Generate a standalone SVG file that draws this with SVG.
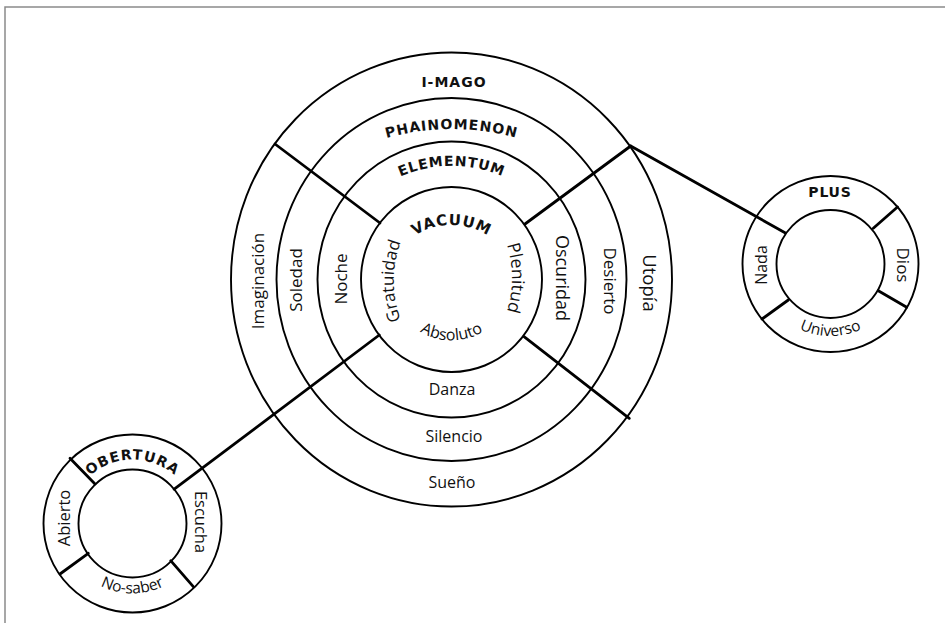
<svg xmlns="http://www.w3.org/2000/svg" xmlns:xlink="http://www.w3.org/1999/xlink" width="945" height="623" viewBox="0 0 945 623">
<style>
.ring{fill:none;stroke:#000;stroke-width:1.9}
.spoke{fill:none;stroke:#000;stroke-width:2.8;stroke-linecap:round}
.hd{font-family:"DejaVu Sans",Verdana,sans-serif;font-weight:bold;font-size:14px;fill:#111}
.lb{font-family:"Open Sans","Noto Sans",sans-serif;font-size:16px;fill:#111}
.vt{font-size:17px}
</style>
<defs>
<path id="pPhai" d="M331.5,161.2 A240,240 0 0 1 571.5,161.2"/>
<path id="pElem" d="M351.9,212.4 A130,130 0 0 1 551.1,212.4"/>
<path id="pVac" d="M392.6,259 A68,68 0 0 1 510.4,259"/>
<path id="pGrat" d="M420.7,353.1 A110,110 0 0 1 420.7,208.9"/>
<path id="pPlen" d="M486.3,207.3 A110,110 0 0 1 486.3,348.7"/>
<path id="pAbs" d="M398.7,310 A61,61 0 0 0 504.3,310"/>
<path id="pUniv" d="M768.1,300 A72,72 0 0 0 892.9,300"/>
<path id="pObert" d="M72.4,501.6 A64,64 0 0 1 192.6,501.6"/>
<path id="pNosab" d="M71.9,558.5 A70,70 0 0 0 193.1,558.5"/>
</defs>
<rect width="945" height="623" fill="#fff"/>
<path d="M5,623 V7 H945" fill="none" stroke="#8a8a8a" stroke-width="1.5"/>

<g id="connectors">
<line class="spoke" x1="275" y1="144" x2="380" y2="223"/>
<line class="spoke" x1="525" y1="224" x2="630.7" y2="146"/>
<line class="spoke" x1="630.7" y1="146" x2="785" y2="232.7"/>
<line class="spoke" x1="379.3" y1="335" x2="174.2" y2="489.2"/>
<line class="spoke" x1="524" y1="336.7" x2="629.3" y2="418.3"/>
</g>

<g id="main">
<ellipse class="ring" cx="451.5" cy="279.5" rx="220.5" ry="227"/>
<ellipse class="ring" cx="451.5" cy="279.5" rx="175" ry="181.5"/>
<ellipse class="ring" cx="451.5" cy="279.5" rx="134" ry="138"/>
<ellipse class="ring" cx="451.5" cy="279.5" rx="90.5" ry="92.5"/>
</g>

<g id="imago">
<text class="hd" x="454" y="87" text-anchor="middle" letter-spacing="1">I-MAGO</text>
<text class="lb vt" transform="translate(263.5,281) rotate(-90)" text-anchor="middle">Imaginación</text>
<text class="lb" style="font-size:18.5px" transform="translate(643,283) rotate(90)" text-anchor="middle">Utopía</text>
<text class="lb" x="452" y="488" text-anchor="middle">Sueño</text>
</g>

<g id="phainomenon">
<text class="hd" letter-spacing="1"><textPath xlink:href="#pPhai" href="#pPhai" startOffset="50%" text-anchor="middle">PHAINOMENON</textPath></text>
<text class="lb vt" transform="translate(302,280) rotate(-90)" text-anchor="middle">Soledad</text>
<text class="lb vt" transform="translate(604,281) rotate(90)" text-anchor="middle">Desierto</text>
<text class="lb" x="454" y="442" text-anchor="middle">Silencio</text>
</g>

<g id="elementum">
<text class="hd" letter-spacing="0.8"><textPath xlink:href="#pElem" href="#pElem" startOffset="50%" text-anchor="middle">ELEMENTUM</textPath></text>
<text class="lb vt" transform="translate(347,279) rotate(-90)" text-anchor="middle">Noche</text>
<text class="lb" style="font-size:18px" transform="translate(555.5,278) rotate(90)" text-anchor="middle">Oscuridad</text>
<text class="lb" x="452" y="395" text-anchor="middle">Danza</text>
</g>

<g id="vacuum">
<text class="hd" style="font-size:15px" letter-spacing="0.8"><textPath xlink:href="#pVac" href="#pVac" startOffset="50%" text-anchor="middle">VACUUM</textPath></text>
<text class="lb vt"><textPath xlink:href="#pGrat" href="#pGrat" startOffset="50%" text-anchor="middle">Gratuidad</textPath></text>
<text class="lb" style="font-size:17.5px"><textPath xlink:href="#pPlen" href="#pPlen" startOffset="50%" text-anchor="middle">Plenitud</textPath></text>
<text class="lb"><textPath xlink:href="#pAbs" href="#pAbs" startOffset="50%" text-anchor="middle">Absoluto</textPath></text>
</g>

<g id="plus">
<circle class="ring" cx="830.5" cy="264" r="88"/>
<circle class="ring" cx="830.5" cy="264" r="54"/>
<line class="spoke" x1="873.3" y1="228.3" x2="897.5" y2="207"/>
<line class="spoke" x1="878.3" y1="290.7" x2="906.7" y2="307.3"/>
<line class="spoke" x1="788.3" y1="300" x2="762" y2="319"/>
<text class="hd" x="830" y="197" text-anchor="middle" letter-spacing="0.8">PLUS</text>
<text class="lb" transform="translate(767,265) rotate(-90)" text-anchor="middle">Nada</text>
<text class="lb vt" transform="translate(897,265) rotate(90)" text-anchor="middle">Dios</text>
<text class="lb" style="font-size:15.5px"><textPath xlink:href="#pUniv" href="#pUniv" startOffset="50%" text-anchor="middle">Universo</textPath></text>
</g>

<g id="obertura">
<circle class="ring" cx="132.5" cy="523.5" r="89"/>
<circle class="ring" cx="132.5" cy="523.5" r="54"/>
<line class="spoke" x1="70" y1="458.3" x2="95" y2="484"/>
<line class="spoke" x1="88.3" y1="553.3" x2="60" y2="574"/>
<line class="spoke" x1="170.7" y1="560.7" x2="193.3" y2="586.7"/>
<text class="hd" letter-spacing="1"><textPath xlink:href="#pObert" href="#pObert" startOffset="50%" text-anchor="middle">OBERTURA</textPath></text>
<text class="lb" style="font-size:16.5px" transform="translate(70,518) rotate(-90)" text-anchor="middle">Abierto</text>
<text class="lb" style="font-size:16.5px" transform="translate(195,522) rotate(90)" text-anchor="middle">Escucha</text>
<text class="lb" style="font-size:15.5px"><textPath xlink:href="#pNosab" href="#pNosab" startOffset="50%" text-anchor="middle">No-saber</textPath></text>
</g>
</svg>
